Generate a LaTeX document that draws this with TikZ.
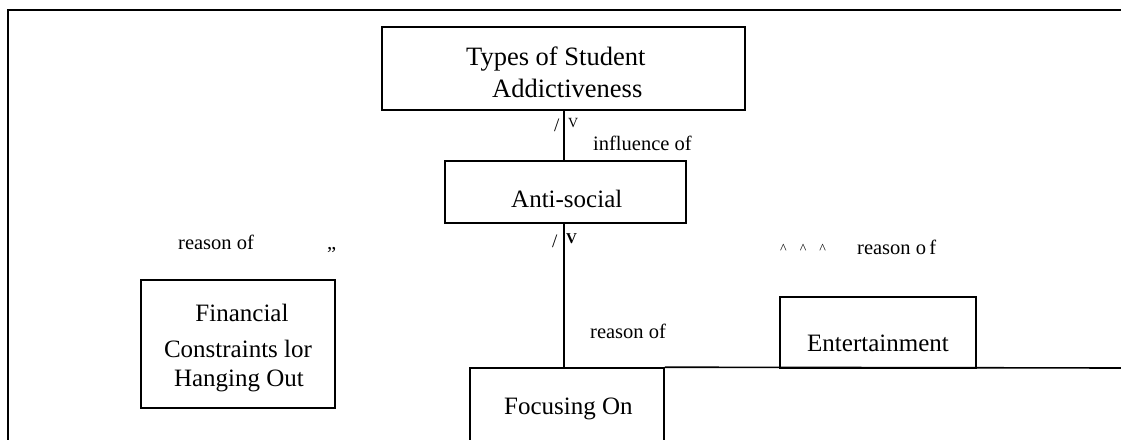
\documentclass[tikz,border=0pt]{standalone}
\usepackage{fontspec}
\setmainfont{Liberation Serif}
\begin{document}
\begin{tikzpicture}[x=1pt,y=-1pt,
  frame/.style={line width=1.6pt,line cap=rect},
  box/.style={draw,line width=1.6pt,rectangle,inner sep=0pt},
  boxtext/.style={inner sep=0pt,font=\fontsize{25}{30}\selectfont},
  toptext/.style={inner sep=0pt,font=\fontsize{26.5}{30}\selectfont},
  lbl/.style={inner sep=0pt,font=\fontsize{20.5}{24}\selectfont},
  slash/.style={inner sep=0pt,font=\fontsize{19}{22}\selectfont},
  tick/.style={inner sep=0pt,font=\fontsize{14}{16}\selectfont},
  btick/.style={inner sep=0pt,font=\fontsize{15}{17}\selectfont\bfseries},
  conn/.style={line width=1.6pt}]
\useasboundingbox (0,0) rectangle (1121,439);

% outer frame (top and left sides)
\coordinate (fbl) at (8,439);
\coordinate (ftl) at (8,10);
\coordinate (ftr) at (1121,10);
\draw[frame] (fbl) -- (ftl) -- (ftr);

% boxes
\node[box,minimum width=363pt,minimum height=83pt] (top) at (563.5,68.5) {};
\node[box,minimum width=241pt,minimum height=62pt] (anti) at (565.5,192) {};
\node[box,minimum width=194pt,minimum height=128pt] (fin) at (238,344) {};
\node[box,minimum width=196pt,minimum height=71pt] (ent) at (878,332.5) {};
\node[box,minimum width=194pt,minimum height=130pt] (focus) at (567,433) {};
\coordinate (rightend) at (1121,368);
\draw[conn] (focus.north east) -- (rightend);

% box texts
\node[toptext,anchor=base west] (t1) at (466,65) {Types of Student};
\node[toptext,anchor=base west] (t2) at (492,97) {Addictiveness};
\node[boxtext,anchor=base west] (t3) at (511,207) {Anti-social};
\node[boxtext,anchor=base] (t4) at (242,321) {Financial};
\node[boxtext,anchor=base] (t5) at (238,357) {Constraints lor};
\node[boxtext,anchor=base] (t6) at (239,386) {Hanging Out};
\node[boxtext,anchor=base west] (t7) at (504,414) {Focusing On};
\node[boxtext,anchor=base west] (t8) at (807,351) {Entertainment};

% connectors
\draw[conn] (top.south -| 564,0) -- (anti.north -| 564,0);
\draw[conn] (anti.south -| 564,0) -- (focus.north -| 564,0);

% connector labels
\node[slash,anchor=base west] (s1) at (554,131) {/};
\node[tick,anchor=base west] (v1) at (568,127) {V};
\node[lbl,anchor=base west] (l1) at (593,150) {influence of};
\node[slash,anchor=base west] (s2) at (552,247) {/};
\node[btick,anchor=base west] (v2) at (566,243) {V};
\node[lbl,anchor=base west] (l2) at (590,338) {reason of};
\node[lbl,anchor=base west] (l3) at (178,249) {reason of};
\node[lbl,anchor=base west] (q1) at (327,249) {„};
\node[tick,anchor=base west] (c1) at (780,253) {\^{}\hspace{13pt}\^{}\hspace{13pt}\^{}};
\node[lbl,anchor=base west] (l4) at (857,254) {reason o\,f};
\end{tikzpicture}
\end{document}
